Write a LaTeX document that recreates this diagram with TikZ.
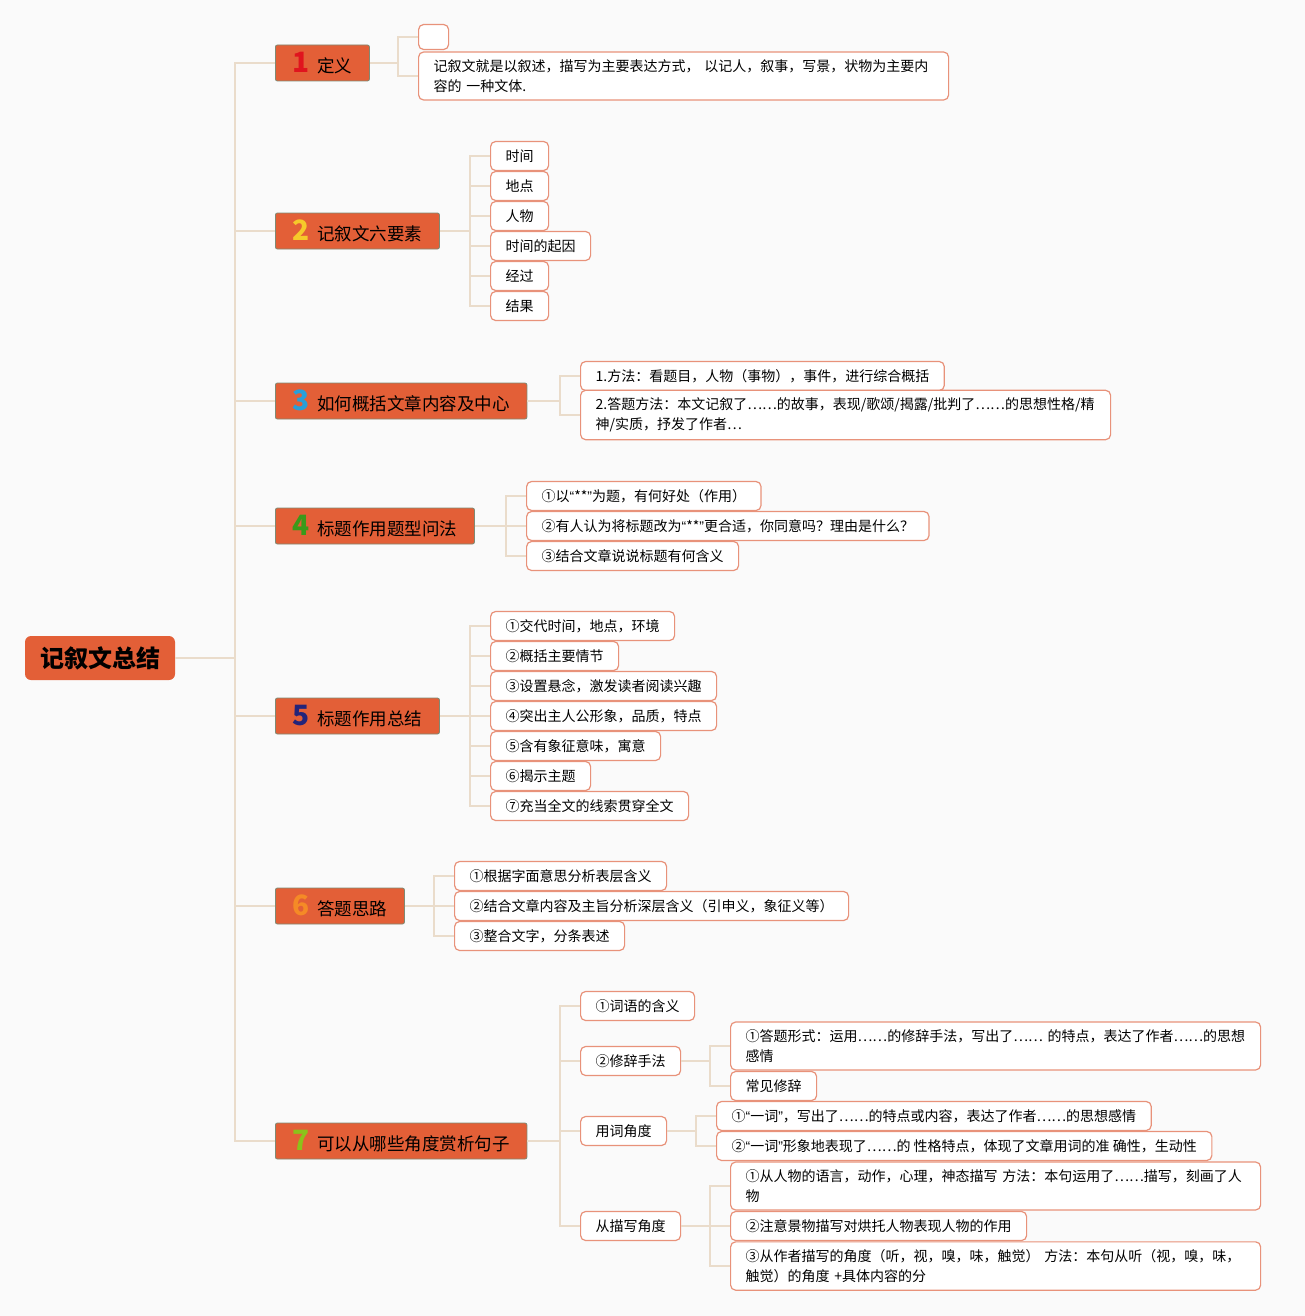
\documentclass[tikz,border=0pt]{standalone}
\usepackage{fontspec}
\setmainfont{Noto Sans CJK SC}
\newfontfamily\quotefont{Liberation Sans}
\usetikzlibrary{positioning}
\definecolor{bgcol}{HTML}{FAFAFA}
\definecolor{topicfill}{HTML}{E35F37}
\definecolor{topicline}{HTML}{7F8A74}
\definecolor{leafline}{HTML}{E8927A}
\definecolor{linkcol}{HTML}{EADCCB}
\definecolor{noA}{HTML}{E0141E}
\definecolor{noB}{HTML}{F6C92A}
\definecolor{noC}{HTML}{2A9FD8}
\definecolor{noD}{HTML}{3A9A1A}
\definecolor{noE}{HTML}{23247A}
\definecolor{noF}{HTML}{F58A26}
\definecolor{noG}{HTML}{8CC21A}
\newcommand{\branchno}[2]{{\fontsize{28}{28}\selectfont\bfseries\color{#1}#2}\hspace{8pt}}
\newcommand{\oqt}{{\quotefont“}}
\newcommand{\cqt}{{\quotefont”}}

\begin{document}
\begin{tikzpicture}[
  x=1pt, y=-1pt,
  root/.style={rectangle, rounded corners=6pt, fill=topicfill,
               font=\fontsize{24}{28}\selectfont\bfseries,
               inner xsep=15pt, minimum height=44pt},
  topic/.style={rectangle, rounded corners=2pt, fill=topicfill, draw=topicline,
                line width=0.8pt, font=\fontsize{17.5}{21}\selectfont,
                inner xsep=17pt, inner ysep=3pt, minimum height=36pt, anchor=west},
  leaf/.style={rectangle, rounded corners=5pt, fill=white, draw=leafline,
               line width=1.2pt, font=\fontsize{14}{20}\selectfont,
               inner xsep=15pt, inner ysep=7.5pt, minimum height=29pt,
               align=left, anchor=west},
  wide/.style={leaf, text width=500pt},
  link/.style={draw=linkcol, line width=1.6pt},
]
\fill[bgcol] (0,0) rectangle (1305,1316);
\useasboundingbox (0,0) rectangle (1305,1316);

% centre
\node[root] (root) at (100,658) {记叙文总结};
\coordinate (trunk) at (235,658);

% main topics
\node[topic] (b1) at (275,63)   {\branchno{noA}{1}定义};
\node[topic] (b2) at (275,231)  {\branchno{noB}{2}记叙文六要素};
\node[topic] (b3) at (275,401)  {\branchno{noC}{3}如何概括文章内容及中心};
\node[topic] (b4) at (275,526)  {\branchno{noD}{4}标题作用题型问法};
\node[topic] (b5) at (275,716)  {\branchno{noE}{5}标题作用总结};
\node[topic] (b6) at (275,906)  {\branchno{noF}{6}答题思路};
\node[topic] (b7) at (275,1141) {\branchno{noG}{7}可以从哪些角度赏析句子};

\draw[link] (root.east) -- (trunk);
\foreach \b in {b1,b2,b3,b4,b5,b6,b7}
  \draw[link] (trunk) |- (\b.west);

% 1
\node[leaf, minimum width=30pt, minimum height=25pt, inner sep=0pt] (l11) at (418,37) {};
\node[wide] (l12) at (418,76)
  {记叙文就是以叙述，描写为主要表达方式， 以记人，叙事，写景，状物为主要内\\容的 一种文体.};
\coordinate (j1) at (398,63);
\draw[link] (b1.east) -- (j1);
\foreach \l in {l11,l12}
  \draw[link] (j1) |- (\l.west);

% 2
\node[leaf] (l21) at (490,156) {时间};
\node[leaf] (l22) at (490,186) {地点};
\node[leaf] (l23) at (490,216) {人物};
\node[leaf] (l24) at (490,246) {时间的起因};
\node[leaf] (l25) at (490,276) {经过};
\node[leaf] (l26) at (490,306) {结果};
\coordinate (j2) at (470,231);
\draw[link] (b2.east) -- (j2);
\foreach \l in {l21,l22,l23,l24,l25,l26}
  \draw[link] (j2) |- (\l.west);

% 3
\node[leaf] (l31) at (580,376) {1.方法：看题目，人物（事物），事件，进行综合概括};
\node[wide] (l32) at (580,415)
  {2.答题方法：本文记叙了……的故事，表现/歌颂/揭露/批判了……的思想性格/精\\神/实质，抒发了作者…};
\coordinate (j3) at (560,401);
\draw[link] (b3.east) -- (j3);
\foreach \l in {l31,l32}
  \draw[link] (j3) |- (\l.west);

% 4
\node[leaf] (l41) at (526,496) {①以\oqt**\cqt 为题，有何好处（作用）};
\node[leaf] (l42) at (526,526) {②有人认为将标题改为\oqt**\cqt 更合适，你同意吗？理由是什么？};
\node[leaf] (l43) at (526,556) {③结合文章说说标题有何含义};
\coordinate (j4) at (506,526);
\draw[link] (b4.east) -- (j4);
\foreach \l in {l41,l42,l43}
  \draw[link] (j4) |- (\l.west);

% 5
\node[leaf] (l51) at (490,626) {①交代时间，地点，环境};
\node[leaf] (l52) at (490,656) {②概括主要情节};
\node[leaf] (l53) at (490,686) {③设置悬念，激发读者阅读兴趣};
\node[leaf] (l54) at (490,716) {④突出主人公形象，品质，特点};
\node[leaf] (l55) at (490,746) {⑤含有象征意味，寓意};
\node[leaf] (l56) at (490,776) {⑥揭示主题};
\node[leaf] (l57) at (490,806) {⑦充当全文的线索贯穿全文};
\coordinate (j5) at (470,716);
\draw[link] (b5.east) -- (j5);
\foreach \l in {l51,l52,l53,l54,l55,l56,l57}
  \draw[link] (j5) |- (\l.west);

% 6
\node[leaf] (l61) at (454,876) {①根据字面意思分析表层含义};
\node[leaf] (l62) at (454,906) {②结合文章内容及主旨分析深层含义（引申义，象征义等）};
\node[leaf] (l63) at (454,936) {③整合文字，分条表述};
\coordinate (j6) at (434,906);
\draw[link] (b6.east) -- (j6);
\foreach \l in {l61,l62,l63}
  \draw[link] (j6) |- (\l.west);

% 7
\node[leaf] (l71) at (580,1006) {①词语的含义};
\node[leaf] (l72) at (580,1061) {②修辞手法};
\node[leaf] (l73) at (580,1131) {用词角度};
\node[leaf] (l74) at (580,1226) {从描写角度};
\coordinate (j7) at (560,1141);
\draw[link] (b7.east) -- (j7);
\foreach \l in {l71,l72,l73,l74}
  \draw[link] (j7) |- (\l.west);

\node[wide] (l721) at (730,1046)
  {①答题形式：运用……的修辞手法，写出了…… 的特点，表达了作者……的思想\\感情};
\node[leaf] (l722) at (730,1086) {常见修辞};
\coordinate (j72) at (710,1061);
\draw[link] (l72.east) -- (j72);
\foreach \l in {l721,l722}
  \draw[link] (j72) |- (\l.west);

\node[leaf] (l731) at (716,1116) {①\oqt 一词\cqt ，写出了……的特点或内容，表达了作者……的思想感情};
\node[leaf] (l732) at (716,1146) {②\oqt 一词\cqt 形象地表现了……的 性格特点，体现了文章用词的准 确性，生动性};
\coordinate (j73) at (696,1131);
\draw[link] (l73.east) -- (j73);
\foreach \l in {l731,l732}
  \draw[link] (j73) |- (\l.west);

\node[wide] (l741) at (730,1186)
  {①从人物的语言，动作，心理，神态描写 方法：本句运用了……描写，刻画了人\\物};
\node[leaf] (l742) at (730,1226) {②注意景物描写对烘托人物表现人物的作用};
\node[wide] (l743) at (730,1266)
  {③从作者描写的角度（听，视，嗅，味，触觉） 方法：本句从听（视，嗅，味，\\触觉）的角度 +具体内容的分};
\coordinate (j74) at (710,1226);
\draw[link] (l74.east) -- (j74);
\foreach \l in {l741,l742,l743}
  \draw[link] (j74) |- (\l.west);
\end{tikzpicture}
\end{document}
